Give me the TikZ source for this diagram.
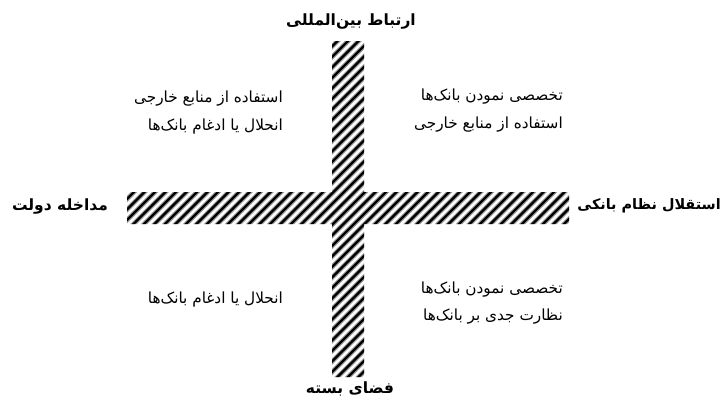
\documentclass[tikz,border=0pt]{standalone}
\usepackage{fontspec}
\setmainfont{DejaVu Sans}
\newfontfamily\fa[Script=Arabic]{DejaVu Sans}
\TeXXeTstate=1
\tikzset{
  quad/.style={font=\fa\fontsize{15.3}{18}\selectfont, inner sep=0pt},
  axislabel/.style={font=\fa\bfseries\fontsize{15.5}{18}\selectfont, inner sep=0pt},
  stripe/.style={line width=2.4pt, black},
  halo/.style={line width=4.6pt, black!40},
}
\begin{document}
\begin{tikzpicture}[x=1pt,y=-1pt]
\useasboundingbox[fill=white] (0,0) rectangle (724,405);
% hatched cross
\begin{scope}
  \clip (332,41) rectangle (364,377) (127,192) rectangle (569,224);
  \fill[white] (120,30) rectangle (580,390);
  \foreach \a in {-262,-251.5,...,540} {
    \draw[halo] (\a,420) -- ++(460,-460);
  }
  \foreach \a in {-262,-251.5,...,540} {
    \draw[stripe] (\a,420) -- ++(460,-460);
  }
\end{scope}
% axis labels
\node[axislabel] (top) at (351,22) {\beginR ارتباط بین‌المللی\endR};
\node[axislabel] (bottom) at (350,389) {\beginR فضای بسته\endR};
\node[axislabel] (left) at (60,206) {\beginR مداخله دولت\endR};
\node[axislabel, anchor=east, font=\fa\bfseries\fontsize{14.4}{18}\selectfont] (right) at (721,206) {\beginR استقلال نظام بانکی\endR};
% quadrant texts
\node[quad, anchor=east] (tl1) at (283,99) {\beginR استفاده از منابع خارجی\endR};
\node[quad, anchor=east] (tl2) at (283,127) {\beginR انحلال یا ادغام بانک‌ها\endR};
\node[quad, anchor=east] (tr1) at (563,97) {\beginR تخصصی نمودن بانک‌ها\endR};
\node[quad, anchor=east] (tr2) at (563,125) {\beginR استفاده از منابع خارجی\endR};
\node[quad, anchor=east] (bl1) at (283,300) {\beginR انحلال یا ادغام بانک‌ها\endR};
\node[quad, anchor=east] (br1) at (563,290) {\beginR تخصصی نمودن بانک‌ها\endR};
\node[quad, anchor=east] (br2) at (563,317) {\beginR نظارت جدی بر بانک‌ها\endR};
\end{tikzpicture}
\end{document}
